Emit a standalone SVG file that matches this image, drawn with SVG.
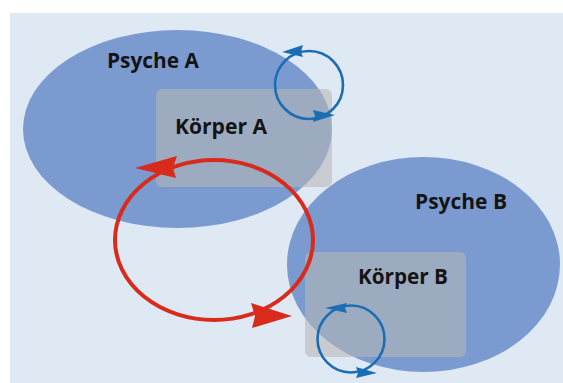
<svg xmlns="http://www.w3.org/2000/svg" width="563" height="383" viewBox="0 0 563 383">
<style>
.psyche{fill:#7b9bd0}
.koerper{fill:#b6b6b6;fill-opacity:0.58}
.lbl{font-family:"Open Sans","Noto Sans","Liberation Sans",sans-serif;font-weight:700;font-size:21.5px;fill:#141414}
.blue{fill:none;stroke:#1b6db4;stroke-width:2.6}
.bluehead{fill:#1b6db4}
.red{fill:none;stroke:#d92b1b;stroke-width:4}
.redhead{fill:#d92b1b}
</style>
<rect x="0" y="0" width="563" height="383" fill="#ffffff"/>
<rect x="10" y="13" width="553" height="370" fill="#dfe9f4"/>
<g id="psycheA">
<ellipse class="psyche" cx="177.5" cy="129" rx="154.5" ry="99"/>
<text class="lbl" x="107" y="68" textLength="92" lengthAdjust="spacingAndGlyphs">Psyche A</text>
</g>
<g id="psycheB">
<ellipse class="psyche" cx="423.5" cy="264.5" rx="136.5" ry="107.5"/>
<text class="lbl" x="415" y="209" textLength="92" lengthAdjust="spacingAndGlyphs">Psyche B</text>
</g>
<g id="koerperA">
<rect class="koerper" x="156" y="89" width="176" height="98" rx="6"/>
<text class="lbl" x="175" y="134" textLength="92" lengthAdjust="spacingAndGlyphs">Körper A</text>
</g>
<g id="koerperB">
<rect class="koerper" x="305" y="252" width="161" height="105" rx="6"/>
<text class="lbl" x="358" y="284" textLength="90" lengthAdjust="spacingAndGlyphs">Körper B</text>
</g>
<g id="connectors">
<g id="loopA">
<circle class="blue" cx="309" cy="85" r="34"/>
<polygon class="bluehead" points="282,52 303,45 301,52 303,57"/>
<polygon class="bluehead" points="335,115 313,110 315,116 313,122"/>
</g>
<g id="loopB">
<circle class="blue" cx="351" cy="339" r="33.5"/>
<polygon class="bluehead" points="325,308 347,303 345,308 347,313"/>
<polygon class="bluehead" points="377,373 356,367 358,373 356,378"/>
</g>
<g id="loopRed">
<ellipse class="red" cx="214" cy="240" rx="99" ry="80"/>
<polygon class="redhead" points="135,168 177,156 173,168 176,178"/>
<polygon class="redhead" points="292,316 251,303 255,316 252,328"/>
</g>
</g>
</svg>
